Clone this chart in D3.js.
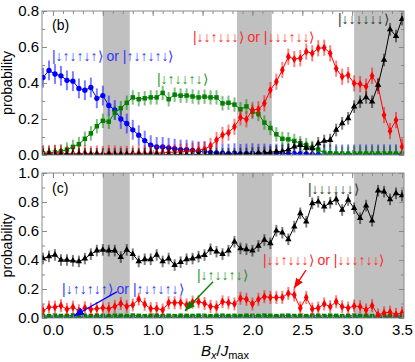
<!DOCTYPE html>
<html>
<head>
<meta charset="utf-8">
<script src="https://cdn.jsdelivr.net/npm/d3@7"></script>
<style>
body { margin: 0; background: #fff; }
text { font-family: "Liberation Sans", Arial, sans-serif; }
</style>
</head>
<body>
<svg id="chart" width="415" height="362"></svg>
<script>
// field values B_x/J_max
const bx = [-0.10,-0.04,0.02,0.08,0.14,0.20,0.26,0.32,0.38,0.44,0.50,0.56,0.62,0.68,0.74,0.80,0.86,0.92,0.98,1.04,
  1.10,1.16,1.22,1.28,1.34,1.40,1.46,1.52,1.58,1.64,1.70,1.76,1.82,1.88,1.94,2.00,2.06,2.12,2.18,2.24,
  2.30,2.36,2.42,2.48,2.54,2.60,2.66,2.72,2.78,2.84,2.90,2.96,3.02,3.08,3.14,3.20,3.26,3.32,3.38,3.44,3.50];

// panel (b)
const blueB = [0.43,0.47,0.45,0.44,0.415,0.41,0.37,0.36,0.375,0.315,0.33,0.275,0.25,0.20,0.175,0.14,0.11,0.08,0.055,0.045,
  0.045,0.04,0.035,0.03,0.03,0.025,0.02,0.02,0.015,0.012,0.01,0.008,0.01,0.006,0.008,0.01,0.007,0.008,0.006,0.008,
  0.01,0.006,0.008,0.007,0.006,0.004,0.003,0.004,0.003,0.004,0.003,0.004,0.003,0.004,0.003,0.004,0.003,0.004,0.003,0.004,0.003];
const greenB = [0.01,0.012,0.015,0.02,0.03,0.045,0.06,0.09,0.12,0.16,0.19,0.185,0.235,0.26,0.29,0.32,0.31,0.315,0.32,0.32,
  0.345,0.31,0.335,0.33,0.33,0.325,0.32,0.324,0.32,0.32,0.287,0.29,0.28,0.254,0.27,0.24,0.228,0.18,0.15,0.115,
  0.09,0.087,0.078,0.065,0.055,0.04,0.03,0.012,0.01,0.008,0.008,0.008,0.008,0.008,0.008,0.008,0.008,0.008,0.008,0.008,0.008];
const redB = [0.01,0.008,0.012,0.01,0.006,0.008,0.006,0.01,0.005,0.008,0.006,0.01,0.008,0.005,0.006,0.008,0.01,0.008,0.01,0.01,
  0.012,0.015,0.015,0.018,0.02,0.022,0.028,0.033,0.05,0.083,0.111,0.124,0.157,0.209,0.198,0.25,0.254,0.287,0.361,0.407,
  0.472,0.546,0.533,0.538,0.574,0.565,0.593,0.596,0.565,0.48,0.435,0.444,0.398,0.394,0.38,0.44,0.383,0.222,0.133,0.194,0.046];
const blackB = [0.003,0.004,0.003,0.004,0.003,0.004,0.003,0.004,0.003,0.004,0.003,0.004,0.003,0.004,0.003,0.004,0.003,0.004,0.003,0.004,
  0.003,0.004,0.003,0.004,0.003,0.004,0.003,0.004,0.003,0.004,0.003,0.004,0.003,0.005,0.006,0.008,0.01,0.012,0.015,0.02,
  0.02,0.03,0.046,0.055,0.04,0.037,0.065,0.078,0.083,0.139,0.176,0.204,0.269,0.296,0.32,0.296,0.389,0.528,0.698,0.661,0.755];

// panel (c)
const blueC = [0.003,0.004,0.003,0.004,0.003,0.004,0.003,0.004,0.003,0.004,0.003,0.004,0.003,0.004,0.003,0.004,0.003,0.004,0.003,0.004,
  0.003,0.004,0.003,0.004,0.003,0.004,0.003,0.004,0.003,0.004,0.003,0.004,0.003,0.004,0.003,0.004,0.003,0.004,0.003,0.004,
  0.003,0.004,0.003,0.004,0.003,0.004,0.003,0.004,0.003,0.004,0.003,0.004,0.003,0.004,0.003,0.004,0.003,0.004,0.003,0.004,0.003];
const greenC = [0.015,0.013,0.016,0.014,0.015,0.017,0.013,0.015,0.014,0.016,0.015,0.013,0.016,0.015,0.014,0.017,0.015,0.013,0.015,0.016,
  0.014,0.015,0.013,0.016,0.015,0.014,0.016,0.015,0.013,0.015,0.016,0.014,0.015,0.013,0.016,0.015,0.014,0.016,0.015,0.013,
  0.015,0.016,0.014,0.015,0.013,0.016,0.015,0.014,0.016,0.015,0.013,0.015,0.016,0.014,0.015,0.013,0.016,0.015,0.014,0.015,0.015];
const redC = [0.05,0.075,0.075,0.085,0.06,0.075,0.05,0.07,0.06,0.065,0.07,0.065,0.08,0.10,0.08,0.09,0.13,0.095,0.065,0.065,
  0.055,0.105,0.105,0.105,0.09,0.11,0.112,0.10,0.08,0.075,0.112,0.105,0.097,0.136,0.129,0.097,0.129,0.147,0.142,0.142,
  0.142,0.17,0.159,0.069,0.142,0.062,0.069,0.097,0.078,0.112,0.078,0.069,0.083,0.078,0.055,0.085,0.021,0.035,0.04,0.025,0.035];
const blackC = [0.41,0.425,0.435,0.40,0.40,0.395,0.39,0.41,0.44,0.465,0.47,0.465,0.465,0.42,0.47,0.44,0.39,0.405,0.405,0.435,
  0.39,0.41,0.365,0.385,0.405,0.41,0.423,0.434,0.474,0.457,0.441,0.464,0.526,0.48,0.474,0.464,0.497,0.538,0.515,0.602,
  0.588,0.543,0.63,0.722,0.664,0.791,0.802,0.768,0.795,0.818,0.745,0.814,0.757,0.688,0.775,0.671,0.878,0.871,0.818,0.86,0.845];

// error bar half widths: blue, green, red, black
const errB = [0.055, 0.04, 0.045, 0.035];
const errC = [0.02, 0.012, 0.045, 0.04];

const bands = [[0.5, 0.77], [1.845, 2.195], [3.02, 3.52]];
const xTicks = [0, 0.5, 1, 1.5, 2, 2.5, 3, 3.5];
const yTicksB = [0, 0.2, 0.4, 0.6, 0.8];
const yTicksC = [0, 0.2, 0.4, 0.6, 0.8, 1.0];

const colors = ["#0000ff", "#007f00", "#ff0000", "#000000"];
const labelColors = ["#3434ff", "#2a962a", "#ff2a2a", "#333333"];
const symbols = [d3.symbolCircle, d3.symbolSquare, d3.symbolDiamond, d3.symbolTriangle];
const symSizes = [22, 20, 20, 18];

const svg = d3.select("#chart");
const x = d3.scaleLinear().domain([-0.11, 3.52]).range([42, 404]);
const yB = d3.scaleLinear().domain([0, 0.8]).range([155, 11]);
const yC = d3.scaleLinear().domain([0, 1.0]).range([318, 173]);

const defs = svg.append("defs");
colors.forEach(function(c, i) {
    defs.append("marker")
        .attr("id", "head" + i)
        .attr("viewBox", "0 0 10 8")
        .attr("refX", 10).attr("refY", 4)
        .attr("markerWidth", 10).attr("markerHeight", 8)
        .attr("markerUnits", "userSpaceOnUse")
        .attr("orient", "auto")
        .append("path").attr("d", "M0,0 L10,4 L0,8 Z").attr("fill", c);
});

function drawPanel(name, y, series, errs, yTicks, showX) {
    const g = svg.append("g");
    const x0 = x.range()[0], x1 = x.range()[1];
    const yTop = y.range()[1], yBot = y.range()[0];

    defs.append("clipPath").attr("id", "clip" + name)
        .append("rect").attr("x", x0).attr("y", yTop).attr("width", x1 - x0).attr("height", yBot - yTop);

    g.selectAll(".band").data(bands).enter().append("rect")
        .attr("x", d => x(d[0]))
        .attr("width", d => Math.min(x(d[1]), x1) - x(d[0]))
        .attr("y", yTop).attr("height", yBot - yTop)
        .attr("fill", "#c0c0c0");

    const plot = g.append("g").attr("clip-path", "url(#clip" + name + ")");
    const line = d3.line().x((d, i) => x(bx[i])).y(d => y(d));

    series.forEach(function(vals, s) {
        const sg = plot.append("g");
        sg.selectAll("line").data(vals).enter().append("line")
            .attr("x1", (d, i) => x(bx[i])).attr("x2", (d, i) => x(bx[i]))
            .attr("y1", d => y(Math.max(0, d - errs[s]))).attr("y2", d => y(d + errs[s]))
            .attr("stroke", colors[s]).attr("stroke-width", 2).attr("opacity", 0.5);
        sg.append("path").datum(vals).attr("d", line)
            .attr("fill", "none").attr("stroke", colors[s]).attr("stroke-width", 1);
        sg.selectAll(".pt").data(vals).enter().append("path")
            .attr("transform", (d, i) => "translate(" + x(bx[i]) + "," + y(d) + ")")
            .attr("d", d3.symbol().type(symbols[s]).size(symSizes[s]))
            .attr("fill", colors[s]);
    });

    // frame
    g.append("rect").attr("x", x0).attr("y", yTop).attr("width", x1 - x0).attr("height", yBot - yTop)
        .attr("fill", "none").attr("stroke", "#8a8a8a").attr("stroke-width", 1);

    const minorX = d3.range(-0.1, 3.55, 0.1);
    const minorY = d3.range(0, y.domain()[1] + 0.01, 0.1);
    const axes = [
        d3.axisBottom(x).tickValues(minorX).tickSize(-3).tickFormat(""),
        d3.axisTop(x).tickValues(minorX).tickSize(-3).tickFormat(""),
        d3.axisTop(x).tickValues(xTicks).tickSize(-5).tickFormat(""),
        d3.axisLeft(y).tickValues(minorY).tickSize(-3).tickFormat(""),
        d3.axisRight(y).tickValues(minorY).tickSize(-3).tickFormat(""),
        d3.axisRight(y).tickValues(yTicks).tickSize(-5).tickFormat("")
    ];
    const shifts = [[0, yBot], [0, yTop], [0, yTop], [x0, 0], [x1, 0], [x1, 0]];
    axes.forEach(function(a, k) {
        const ag = g.append("g").attr("transform", "translate(" + shifts[k][0] + "," + shifts[k][1] + ")").call(a);
        ag.select(".domain").remove();
        ag.selectAll("line").attr("stroke", "#8a8a8a");
    });

    const xa = g.append("g").attr("transform", "translate(0," + yBot + ")")
        .call(d3.axisBottom(x).tickValues(xTicks).tickSize(-5).tickPadding(6)
            .tickFormat(showX ? d3.format(".1f") : ""));
    const ya = g.append("g").attr("transform", "translate(" + x0 + ",0)")
        .call(d3.axisLeft(y).tickValues(yTicks).tickSize(-5).tickPadding(3).tickFormat(d3.format(".1f")));
    [xa, ya].forEach(function(ag) {
        ag.select(".domain").remove();
        ag.selectAll("line").attr("stroke", "#8a8a8a");
        ag.selectAll("text").attr("font-size", 15).attr("fill", "#000")
            .attr("font-family", "'Liberation Sans', Arial, sans-serif");
    });

    g.append("text")
        .attr("transform", "translate(12," + (yTop + yBot) / 2 + ") rotate(-90)")
        .attr("text-anchor", "middle").attr("font-size", 14).text("probability");
    return g;
}

const gB = drawPanel("b", yB, [blueB, greenB, redB, blackB], errB, yTicksB, false);
const gC = drawPanel("c", yC, [blueC, greenC, redC, blackC], errC, yTicksC, true);

// annotations: [panel, text, x, y, colour index]
const labels = [
    ["b", "(b)", -0.01, 0.694, -1],
    ["b", "|↓↑↓↑↓↑⟩ or |↑↓↑↓↑↓⟩", -0.01, 0.522, 0],
    ["b", "|↓↑↓↓↑↓⟩", 1.043, 0.394, 1],
    ["b", "|↓↓↑↓↓↓⟩ or |↓↓↓↑↓↓⟩", 1.404, 0.628, 2],
    ["b", "|↓↓↓↓↓↓⟩", 2.858, 0.728, 3],
    ["c", "(c)", -0.01, 0.862, -1],
    ["c", "|↓↑↓↑↓↑⟩ or |↑↓↑↓↑↓⟩", 0.091, 0.166, 0],
    ["c", "|↓↑↓↓↑↓⟩", 1.444, 0.262, 1],
    ["c", "|↓↓↑↓↓↓⟩ or |↓↓↓↑↓↓⟩", 2.106, 0.366, 2],
    ["c", "|↓↓↓↓↓↓⟩", 2.557, 0.855, 3]
];
labels.forEach(function(l) {
    const y = l[0] == "b" ? yB : yC;
    svg.append("text").attr("x", x(l[2])).attr("y", y(l[3]))
        .attr("font-size", 14)
        .attr("fill", l[4] < 0 ? "#000" : labelColors[l[4]])
        .text(l[1]);
});

// arrows in panel (c): [x1, y1, x2, y2, colour index]
const arrows = [
    [0.64, 0.18, 0.21, 0.014, 0],
    [1.605, 0.25, 1.324, 0.05, 1],
    [2.537, 0.33, 2.417, 0.205, 2]
];
arrows.forEach(function(a) {
    svg.append("line")
        .attr("x1", x(a[0])).attr("y1", yC(a[1]))
        .attr("x2", x(a[2])).attr("y2", yC(a[3]))
        .attr("stroke", colors[a[4]]).attr("stroke-width", 1.3)
        .attr("marker-end", "url(#head" + a[4] + ")");
});

// x axis title
const title = svg.append("text").attr("x", 225).attr("y", 356)
    .attr("text-anchor", "middle").attr("font-size", 15);
title.append("tspan").attr("font-style", "italic").text("B");
title.append("tspan").attr("font-style", "italic").attr("font-size", 11).attr("dy", 3).text("x");
title.append("tspan").attr("dy", -3).text("/");
title.append("tspan").attr("font-style", "italic").text("J");
title.append("tspan").attr("font-size", 11).attr("dy", 3).text("max");
</script>
</body>
</html>
